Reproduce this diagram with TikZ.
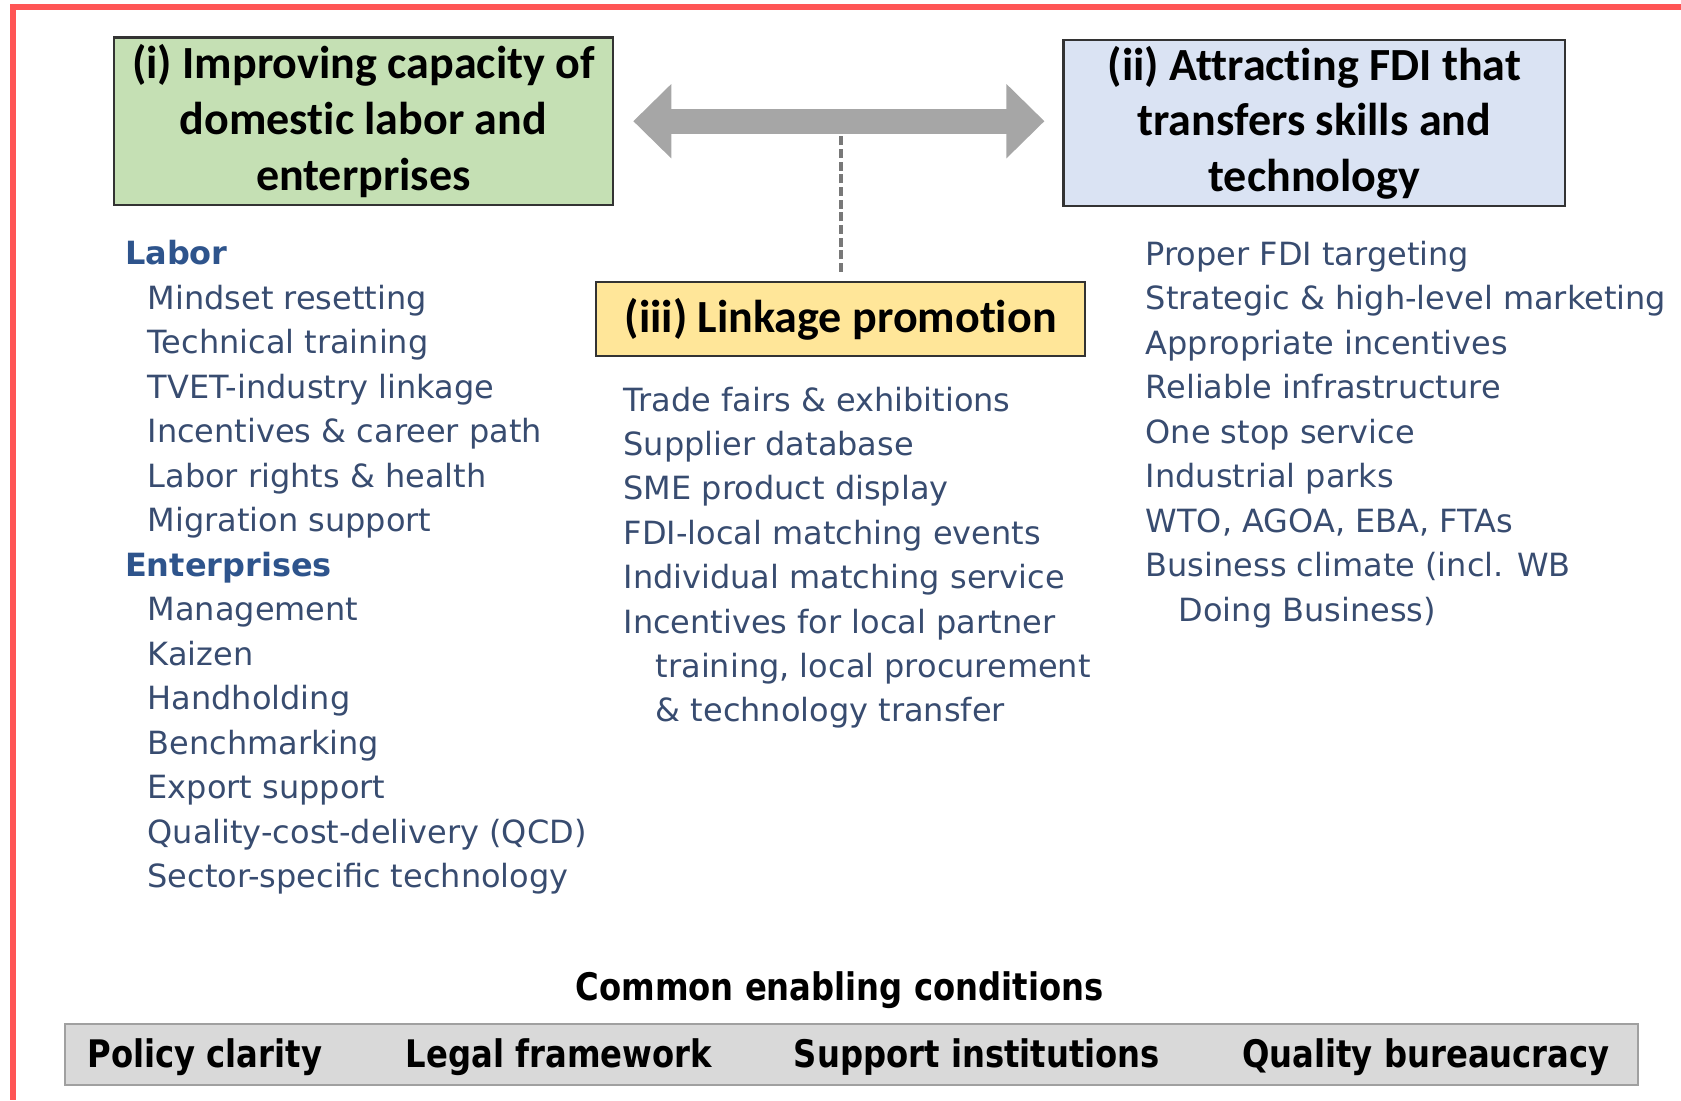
\documentclass[tikz,border=0pt]{standalone}
\usepackage{fontspec}
\usepackage{tikz}
\usetikzlibrary{arrows.meta, positioning, calc}
\setmainfont{DejaVu Sans}
\newfontfamily\titlefont{Carlito}[Ligatures=NoCommon]
\newfontfamily\condfont{DejaVu Sans}[FakeStretch=0.85]

\begin{document}
\begin{tikzpicture}[
    title/.style={
        draw=black!80, line width=0.6pt, align=center, inner sep=0pt,
        font=\titlefont\bfseries\fontsize{13.1}{15.9}\selectfont
    },
    item/.style={anchor=base west, inner sep=0pt, text=cItem,
        font=\fontsize{9.1}{11}\selectfont},
    head/.style={item, text=cHead, font=\bfseries\fontsize{9.1}{11}\selectfont},
    cond/.style={anchor=base, inner sep=0pt,
        font=\condfont\bfseries\fontsize{10.8}{13}\selectfont},
    twoway/.style={draw=cArrow, line width=0.25cm,
        {Triangle[length=0.38cm,width=0.72cm]}-{Triangle[length=0.38cm,width=0.72cm]}},
    tie/.style={draw=cDash, line width=1.1pt, dash pattern=on 2.6pt off 1pt}
]
\definecolor{cFrame}{RGB}{255,85,85}
\definecolor{cGreen}{RGB}{197,224,180}
\definecolor{cBlue}{RGB}{218,227,243}
\definecolor{cYellow}{RGB}{255,230,153}
\definecolor{cArrow}{RGB}{166,166,166}
\definecolor{cDash}{RGB}{120,120,120}
\definecolor{cItem}{RGB}{56,76,112}
\definecolor{cHead}{RGB}{46,84,140}
\definecolor{cBar}{RGB}{217,217,217}
\definecolor{cBarLine}{RGB}{160,160,160}

\useasboundingbox (0,0) rectangle (16.81,-11);

% outer frame (top and left edge only)
\draw[cFrame, line width=1.7pt] (16.81,-0.07) -| (0.13,-11);

% Three pillars
\node[title, fill=cGreen, minimum width=4.996cm, minimum height=1.673cm]
    (capacity) at (3.634,-1.212)
    {(i) Improving capacity of\\domestic labor and\\enterprises};
\node[title, fill=cBlue, minimum width=5.018cm, minimum height=1.661cm]
    (fdi) at (13.144,-1.228)
    {(ii) Attracting FDI that\\transfers skills and\\technology};
\node[title, fill=cYellow, minimum width=4.889cm, minimum height=0.74cm]
    (linkage) at (8.406,-3.19) {(iii) Linkage promotion};

\coordinate (mid) at ($(capacity.east)!0.5!(fdi.west)$);
\draw[tie, shorten <=0.09cm] (linkage.north) -- (linkage.north |- mid);
\draw[twoway, shorten <=0.19cm, shorten >=0.18cm]
    (capacity.east) -- (capacity.east -| fdi.west);

% Labor / Enterprises
\node[head] (labor) at (1.244,-2.645) {Labor};
\foreach \txt [count=\i] in {Mindset resetting, Technical training,
    TVET-industry linkage, Incentives \& career path,
    Labor rights \& health, Migration support}
  \node[item] (labor\i) at (1.469,{-2.645-0.445*\i}) {\txt};

\node[head] (ent) at (1.244,-5.76) {Enterprises};
\foreach \txt [count=\i] in {Management, Kaizen, Handholding, Benchmarking,
    Export support, Quality-cost-delivery (QCD), Sector-specific technology}
  \node[item] (ent\i) at (1.469,{-5.76-0.445*\i}) {\txt};

% Linkage measures
\foreach \txt [count=\i] in {Trade fairs \& exhibitions, Supplier database,
    SME product display, FDI-local matching events,
    Individual matching service, Incentives for local partner}
  \node[item] (link\i) at (6.229,{-4.11-0.444*(\i-1)}) {\txt};
\node[item] (link7) at (6.55,-6.774) {training, local procurement};
\node[item] (link8) at (6.55,-7.218) {\& technology transfer};

% FDI measures
\foreach \txt [count=\i] in {Proper FDI targeting,
    Strategic \& high-level marketing, Appropriate incentives,
    Reliable infrastructure, One stop service, Industrial parks,
    {WTO, AGOA, EBA, FTAs}, Business climate (incl. WB}
  \node[item] (attr\i) at (11.45,{-2.65-0.445*(\i-1)}) {\txt};
\node[item] (attr9) at (11.78,-6.21) {Doing Business)};

% Enabling conditions
\node[cond] (enabling) at (8.395,-10.0) {Common enabling conditions};
\node[draw=cBarLine, fill=cBar, line width=0.6pt, inner sep=0pt,
      minimum width=15.728cm, minimum height=0.611cm]
    (bar) at (8.518,-10.545) {};
\node[cond] (policy) at (2.048,-10.67) {Policy clarity};
\node[cond] (legal) at (5.59,-10.67) {Legal framework};
\node[cond] (inst) at (9.77,-10.67) {Support institutions};
\node[cond] (bureau) at (14.26,-10.67) {Quality bureaucracy};

\end{tikzpicture}
\end{document}
